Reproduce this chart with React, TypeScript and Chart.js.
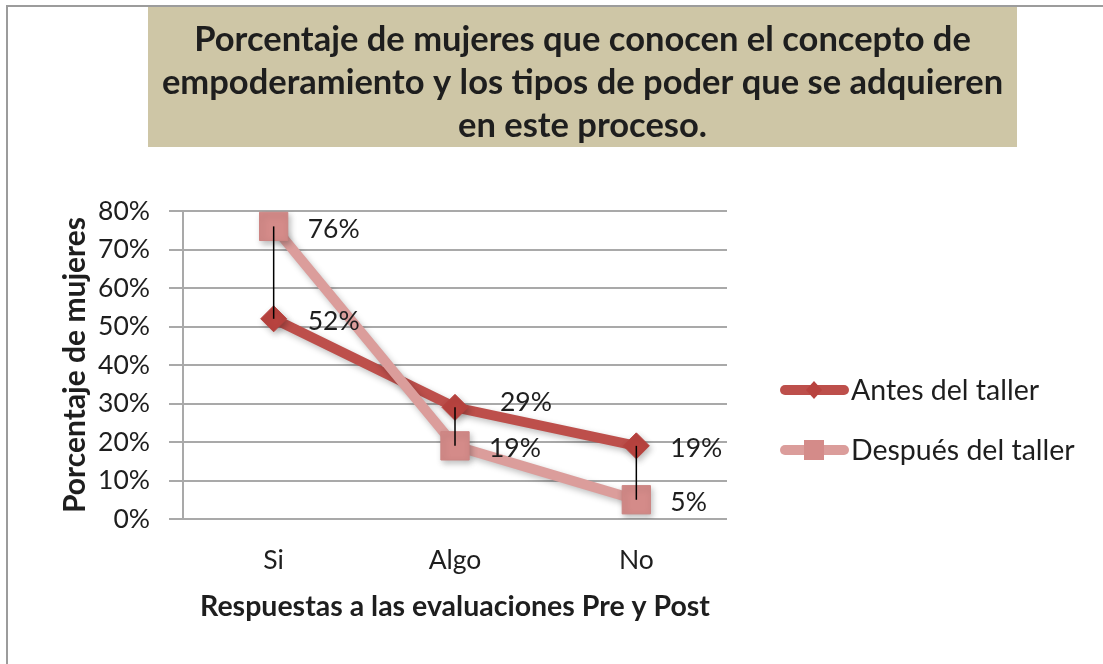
import React, { useEffect, useRef } from 'react';
import { Chart, registerables } from 'chart.js';

Chart.register(...registerables);

const categories = ['Si', 'Algo', 'No'];
const antesValues = [52, 29, 19];
const despuesValues = [76, 19, 5];
const seriesNames = ['Antes del taller', 'Después del taller'];
const yMin = 0;
const yMax = 80;
const yStep = 10;
const titleLines = [
  'Porcentaje de mujeres que conocen el concepto de',
  'empoderamiento y los tipos de poder que se adquieren',
  'en este proceso.',
];
const xAxisTitle = 'Respuestas a las evaluaciones Pre y Post';
const yAxisTitle = 'Porcentaje de mujeres';

const FONT = 'Lato';
const TEXT = '#1e1e1e';
const GRID = '#a9a9a9';
const ANTES_LINE = '#BD4F4B';
const ANTES_POINT = '#B8433F';
const DESP_LINE = '#DB9D9B';
const DESP_POINT = '#D48B89';

const W = 1103;
const H = 664;

// label nudges (dataset index -> category index -> [dx, dy])
const labelNudge: Record<string, [number, number]> = {
  '0-1': [45, -5],
};

const framePlugin = {
  id: 'frameTitle',
  beforeDraw(chart: any) {
    const ctx = chart.ctx;
    ctx.save();
    ctx.fillStyle = '#ffffff';
    ctx.fillRect(0, 0, W, H);
    ctx.strokeStyle = '#9c9c9c';
    ctx.lineWidth = 2;
    ctx.beginPath();
    ctx.moveTo(7, H);
    ctx.lineTo(7, 6);
    ctx.lineTo(W, 6);
    ctx.stroke();
    ctx.fillStyle = '#CEC6A6';
    ctx.fillRect(148, 7, 869, 140);
    ctx.fillStyle = TEXT;
    ctx.font = `bold 34.5px ${FONT}`;
    ctx.textAlign = 'center';
    ctx.textBaseline = 'middle';
    const cy = [40, 83, 126];
    titleLines.forEach((t, i) => ctx.fillText(t, 582.5, cy[i]));
    ctx.restore();
  },
};

const overlayPlugin = {
  id: 'overlay',
  beforeDatasetsDraw(chart: any) {
    const ctx = chart.ctx;
    ctx.save();
    ctx.shadowColor = 'rgba(0,0,0,0.25)';
    ctx.shadowBlur = 6;
    ctx.shadowOffsetX = 2;
    ctx.shadowOffsetY = 3;
  },
  afterDatasetsDraw(chart: any) {
    const ctx = chart.ctx;
    ctx.restore();
    const xs = chart.scales.x;
    const ys = chart.scales.y;
    ctx.save();
    // high-low lines
    ctx.strokeStyle = '#000000';
    ctx.lineWidth = 1.5;
    categories.forEach((c, i) => {
      const x = xs.getPixelForValue(i);
      const y1 = ys.getPixelForValue(antesValues[i]);
      const y2 = ys.getPixelForValue(despuesValues[i]);
      ctx.beginPath();
      ctx.moveTo(x, y1);
      ctx.lineTo(x, y2);
      ctx.stroke();
    });
    // data labels
    ctx.fillStyle = TEXT;
    ctx.font = `26.5px ${FONT}`;
    ctx.textAlign = 'left';
    ctx.textBaseline = 'middle';
    chart.data.datasets.forEach((ds: any, di: number) => {
      const meta = chart.getDatasetMeta(di);
      meta.data.forEach((pt: any, i: number) => {
        const n = labelNudge[`${di}-${i}`] || [34, 3];
        ctx.fillText(`${ds.data[i]}%`, pt.x + n[0], pt.y + n[1]);
      });
    });
    ctx.restore();
  },
  afterDraw(chart: any) {
    const ctx = chart.ctx;
    ctx.save();
    const rows = [
      { y: 390, ds: chart.data.datasets[0], shape: 'diamond' },
      { y: 450, ds: chart.data.datasets[1], shape: 'square' },
    ];
    rows.forEach((r) => {
      ctx.strokeStyle = r.ds.borderColor;
      ctx.lineWidth = 10;
      ctx.lineCap = 'round';
      ctx.beginPath();
      ctx.moveTo(785, r.y);
      ctx.lineTo(844, r.y);
      ctx.stroke();
      ctx.fillStyle = r.ds.pointBackgroundColor;
      ctx.beginPath();
      if (r.shape === 'diamond') {
        ctx.moveTo(814, r.y - 9);
        ctx.lineTo(822, r.y);
        ctx.lineTo(814, r.y + 9);
        ctx.lineTo(806, r.y);
        ctx.closePath();
      } else {
        ctx.rect(804, r.y - 10, 20, 20);
      }
      ctx.fill();
      ctx.fillStyle = TEXT;
      ctx.font = `28.5px ${FONT}`;
      ctx.textAlign = 'left';
      ctx.textBaseline = 'middle';
      ctx.fillText(r.ds.label, 851, r.y + 1);
    });
    ctx.restore();
  },
};

export default function App() {
  const ref = useRef<HTMLCanvasElement>(null);
  useEffect(() => {
    const canvas = ref.current;
    if (!canvas) return;
    const chart = new Chart(canvas, {
      type: 'line',
      data: {
        labels: categories,
        datasets: [
          {
            label: seriesNames[0],
            data: antesValues,
            borderColor: ANTES_LINE,
            borderWidth: 10,
            pointStyle: 'rectRot',
            pointRadius: 13,
            pointBackgroundColor: ANTES_POINT,
            pointBorderColor: ANTES_POINT,
            pointBorderWidth: 1,
            tension: 0,
            order: 1,
          },
          {
            label: seriesNames[1],
            data: despuesValues,
            borderColor: DESP_LINE,
            borderWidth: 10,
            pointStyle: 'rect',
            pointRadius: 20,
            pointBackgroundColor: DESP_POINT,
            pointBorderColor: '#CC8583',
            pointBorderWidth: 1,
            tension: 0,
            order: 0,
          },
        ],
      },
      options: {
        animation: false,
        responsive: false,
        devicePixelRatio: 1,
        layout: { padding: { top: 211, left: 8, right: 376, bottom: 8 } },
        plugins: {
          legend: { display: false },
          tooltip: { enabled: false },
          title: { display: false },
        },
        scales: {
          x: {
            type: 'category',
            offset: true,
            grid: { display: false, drawTicks: false },
            border: { display: false },
            ticks: {
              color: TEXT,
              font: { family: FONT, size: 26.5 },
              padding: 26,
            },
            title: {
              display: true,
              text: xAxisTitle,
              color: TEXT,
              font: { family: FONT, size: 28.5, weight: 'bold' },
              padding: { top: 0, bottom: 32 },
            },
            afterFit(scale: any) {
              scale.height = 137;
            },
          },
          y: {
            min: yMin,
            max: yMax,
            ticks: {
              stepSize: yStep,
              color: TEXT,
              font: { family: FONT, size: 26.5 },
              padding: 19,
              callback: (v: any) => `${v}%`,
            },
            grid: {
              color: GRID,
              lineWidth: 2,
              drawTicks: true,
              tickLength: 14,
            },
            border: { display: true, color: GRID, width: 2 },
            title: {
              display: true,
              text: yAxisTitle,
              color: TEXT,
              font: { family: FONT, size: 30, weight: 'bold' },
              padding: { top: 49, bottom: 0 },
            },
            afterFit(scale: any) {
              scale.width = 175;
            },
          },
        },
      },
      plugins: [framePlugin, overlayPlugin],
    } as any);
    return () => chart.destroy();
  }, []);
  return (
    <div style={{ position: 'absolute', left: 0, top: 0, width: W, height: H, background: '#fff' }}>
      <canvas ref={ref} width={W} height={H} style={{ display: 'block' }} />
    </div>
  );
}
